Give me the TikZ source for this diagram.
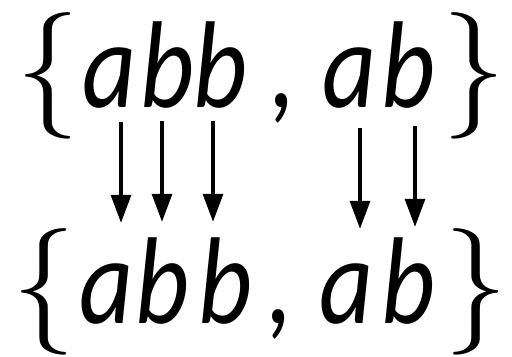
\documentclass[tikz,border=0pt]{standalone}
\usepackage{fontspec}
\newfontfamily\letterfont[FakeStretch=0.85]{Carlito}
\usetikzlibrary{arrows.meta}

\begin{document}
\begin{tikzpicture}[x=1bp, y=1bp,
    letter/.style={font=\letterfont\itshape\fontsize{124}{124}\selectfont, inner sep=0pt, anchor=base, text height=90bp, text depth=0pt},
    brace/.style={font=\fontsize{127}{127}\selectfont, inner sep=0pt, anchor=base},
    arrow/.style={-{Triangle[width=20bp, length=28bp]}, line width=3.3bp, shorten <=15bp, shorten >=10bp}
]
\useasboundingbox (0,0) rectangle (512,356);

% Top set
\node[brace] (tl) at (48,249) {\textbraceleft};
\node[letter] (t1) at (109,249) {a};
\node[letter] (t2) at (167,249) {b};
\node[letter] (t3) at (220,249) {b};
\node[letter] (tc) at (284,249) {,};
\node[letter] (t4) at (349,249) {a};
\node[letter] (t5) at (408,249) {b};
\node[brace] (tr) at (474,249) {\textbraceright};

% Bottom set
\node[brace] (bl) at (44,33) {\textbraceleft};
\node[letter] (b1) at (106,33) {a};
\node[letter] (b2) at (162,33) {b};
\node[letter] (b3) at (225,33) {b};
\node[letter] (bc) at (281,33) {,};
\node[letter] (b4) at (346,33) {a};
\node[letter] (b5) at (408,33) {b};
\node[brace] (br) at (476,33) {\textbraceright};

% Arrows
\foreach \n/\dx/\dy in {1/12/0, 2/-5/1, 3/-7/1, 4/11/-6, 5/7/-4}
    \draw[arrow] ([shift={(\dx,\dy)}]t\n.south) -- ([shift={(\dx,\dy)}]t\n.south |- b\n.north);

\end{tikzpicture}
\end{document}
